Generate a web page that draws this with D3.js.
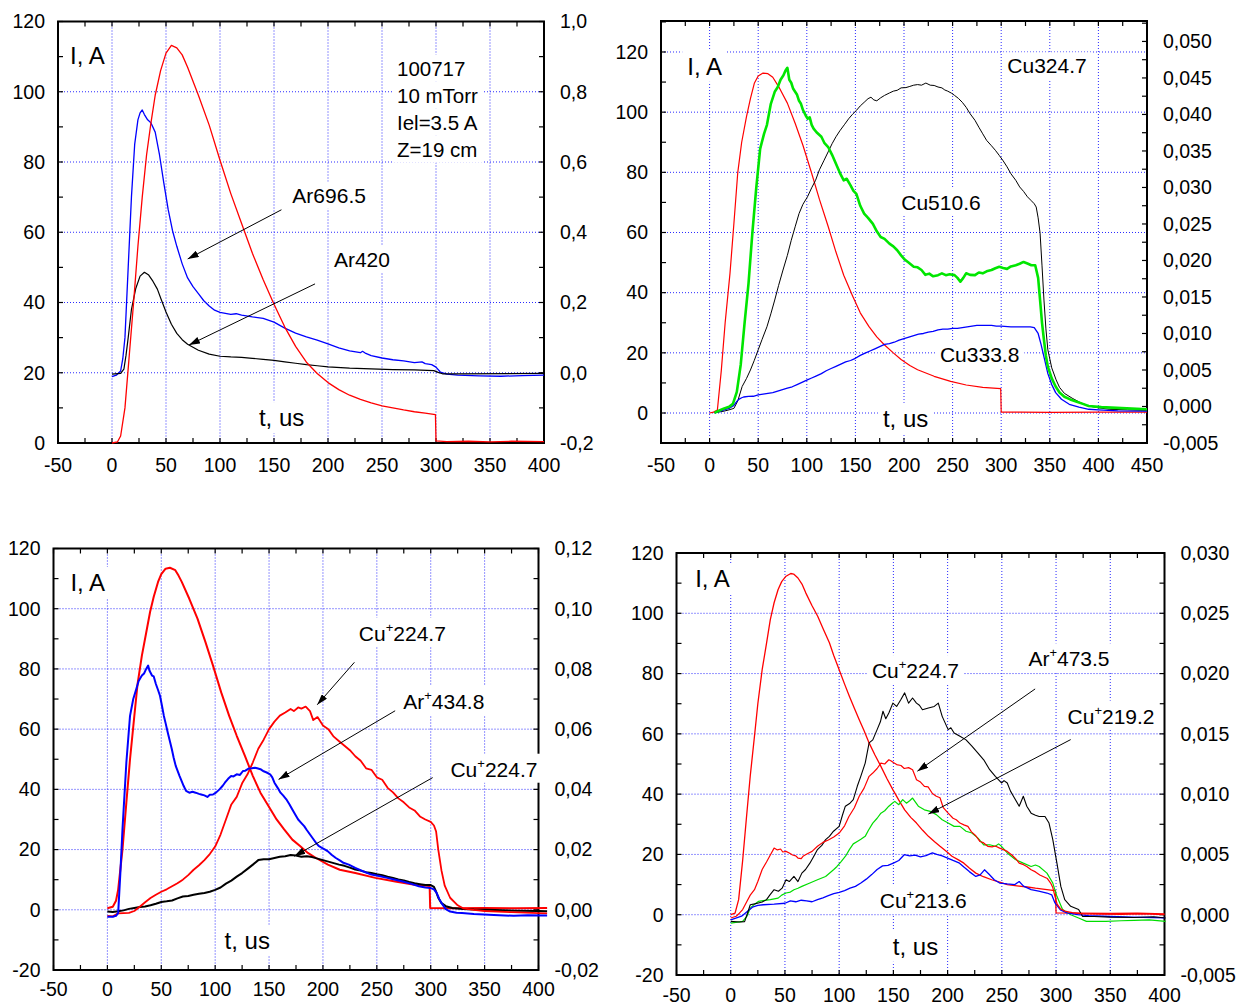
<!DOCTYPE html>
<html>
<head>
<meta charset="utf-8">
<script src="https://cdn.jsdelivr.net/npm/d3@7"></script>
<style>
  body { margin: 0; background: #fff; }
  text { font-family: "Liberation Sans", Arial, sans-serif; fill: #000; }
</style>
</head>
<body>
<svg id="chart" width="1236" height="1005"></svg>
<script>
// ---------- tick labels ----------
const p1XTicks = [-50, 0, 50, 100, 150, 200, 250, 300, 350, 400];
const p1YTicks = [0, 20, 40, 60, 80, 100, 120];
const p1Y2Ticks = [-0.2, 0, 0.2, 0.4, 0.6, 0.8, 1.0];
const p2XTicks = [-50, 0, 50, 100, 150, 200, 250, 300, 350, 400, 450];
const p2YTicks = [0, 20, 40, 60, 80, 100, 120];
const p2Y2Ticks = [-0.005, 0, 0.005, 0.01, 0.015, 0.02, 0.025, 0.03, 0.035, 0.04, 0.045, 0.05];
const p3XTicks = [-50, 0, 50, 100, 150, 200, 250, 300, 350, 400];
const p3YTicks = [-20, 0, 20, 40, 60, 80, 100, 120];
const p3Y2Ticks = [-0.02, 0, 0.02, 0.04, 0.06, 0.08, 0.10, 0.12];
const p4XTicks = [-50, 0, 50, 100, 150, 200, 250, 300, 350, 400];
const p4YTicks = [-20, 0, 20, 40, 60, 80, 100, 120];
const p4Y2Ticks = [-0.005, 0, 0.005, 0.01, 0.015, 0.02, 0.025, 0.03];

// ---------- series: [t (us), value] ----------
// panel 1 (top left): current I (A) and Ar lines (right axis)
const p1Current = [[0,0],[5,0.3],[8,2],[12,10],[16,25],[20,40],[24,56],[28,70],[32,82],[36,91],[40,99],[45,106],[50,111],[55,113.2],[60,112.5],[65,110.5],[70,107],[80,99],[90,90.5],[100,80.5],[110,71],[120,62.5],[130,54],[140,46.5],[150,39.5],[160,33],[170,27.5],[180,23],[190,19.8],[200,17.2],[210,15.2],[220,13.6],[230,12.4],[240,11.4],[250,10.6],[260,10],[270,9.4],[280,8.9],[290,8.5],[299.5,8.1],[300,0.6],[310,0.4],[330,0.5],[350,0.3],[370,0.5],[400,0.4]];
const p1Ar6965 = [[0,-0.011],[4,-0.007],[8,0.005],[10,0.04],[12,0.10],[15,0.30],[18,0.50],[21,0.65],[24,0.72],[26,0.74],[28,0.748],[30,0.735],[33,0.72],[36,0.712],[40,0.685],[44,0.62],[48,0.54],[52,0.465],[56,0.405],[60,0.36],[65,0.31],[70,0.27],[75,0.245],[80,0.225],[85,0.205],[90,0.19],[95,0.178],[100,0.172],[110,0.166],[115,0.168],[120,0.164],[130,0.159],[140,0.155],[150,0.144],[160,0.127],[170,0.113],[180,0.102],[190,0.093],[200,0.082],[210,0.071],[220,0.062],[230,0.057],[232,0.061],[235,0.055],[240,0.049],[250,0.042],[260,0.037],[270,0.034],[280,0.029],[287,0.031],[290,0.026],[296,0.023],[300,0.016],[304,0.002],[310,-0.004],[320,-0.007],[340,-0.009],[360,-0.010],[380,-0.008],[400,-0.007]];
const p1Ar420 = [[0,-0.004],[8,-0.002],[11,0.01],[13,0.05],[15,0.10],[18,0.18],[22,0.24],[26,0.275],[30,0.286],[34,0.278],[38,0.26],[42,0.238],[46,0.205],[50,0.173],[55,0.138],[60,0.112],[65,0.094],[70,0.081],[80,0.064],[90,0.053],[100,0.047],[110,0.045],[120,0.044],[130,0.041],[140,0.038],[150,0.035],[160,0.031],[170,0.027],[180,0.023],[190,0.020],[200,0.017],[220,0.013],[240,0.011],[260,0.009],[280,0.008],[298,0.006],[302,0.001],[306,-0.003],[320,-0.003],[400,-0.002]];

// panel 2 (top right): current I (A) and Cu lines (right axis)
const p2Current = [[0,0],[4,0.3],[8,1],[12,14],[16,30],[21,46.5],[25,63],[29,80],[33,90],[38,98.6],[42,104.5],[46,109.6],[50,112],[55,113],[60,112.8],[65,111.6],[71,108.5],[80,103],[88,96.3],[96,89],[105,79.7],[113,71],[122,62],[130,53.5],[138,45.8],[147,39],[155,33.3],[164,28.7],[172,25.3],[180,22.6],[189,20],[197,17.8],[206,15.8],[214,14.4],[231,12.2],[248,10.5],[264,9.3],[281,8.5],[299.5,8.1],[300,0.3],[320,0.3],[350,0.2],[400,0.3],[450,0.3]];
const p2Cu3247 = [[5,-0.00087],[15,-0.00063],[20,-0.00046],[25,-0.00026],[29,0.00077],[33.5,0.00274],[38,0.00385],[42,0.005],[46,0.00632],[50,0.00776],[54,0.00919],[59,0.01092],[63,0.01269],[67,0.01458],[71,0.01659],[75.5,0.01869],[80,0.0207],[84,0.02276],[88,0.02461],[92,0.02642],[96,0.02769],[100.7,0.02872],[105,0.02995],[109,0.03098],[113,0.03242],[117.5,0.03365],[122,0.03488],[126,0.03599],[130,0.03694],[134,0.03776],[139,0.03866],[143,0.0394],[147,0.04002],[151,0.04055],[155,0.04117],[159,0.04166],[163,0.04216],[166,0.04236],[169,0.04199],[172,0.04187],[176,0.04228],[180,0.04261],[185,0.04294],[189,0.04319],[193,0.04331],[197,0.04364],[202,0.04368],[206,0.04384],[210,0.04401],[214,0.04409],[218,0.04401],[222.5,0.0443],[227,0.04401],[231,0.04397],[235,0.04376],[239,0.04364],[242,0.04335],[245,0.04319],[249,0.0429],[252,0.04261],[256,0.0422],[260,0.04166],[264,0.04097],[268,0.0401],[273,0.0392],[277,0.03825],[281,0.03735],[285,0.03645],[290,0.03571],[294,0.03509],[298,0.03439],[302,0.03365],[306,0.03283],[310,0.03188],[315,0.03098],[319,0.03007],[323,0.02946],[327,0.02872],[331,0.02818],[334,0.02777],[336,0.02732],[338,0.02584],[340,0.02374],[342,0.01926],[344,0.01458],[346,0.01063],[348,0.00776],[352,0.00529],[356.5,0.00365],[360,0.00262],[365,0.0018],[373,0.00114],[381,0.00056],[390,0.00007],[400,-0.00018],[411,-0.00038],[430,-0.00046],[450,-0.00054]];
const p2Cu5106 = [[5,-0.00087],[10,-0.00055],[15,-0.00026],[20,-0.00005],[24,0.00036],[28,0.002],[32,0.0057],[36,0.01146],[40,0.0168],[44,0.02379],[48,0.02995],[52,0.03529],[56,0.03735],[59,0.03858],[63,0.04146],[67,0.0431],[70,0.04372],[73,0.04475],[76,0.04536],[78,0.04598],[80,0.04639],[82,0.04475],[84,0.04434],[86,0.04351],[88,0.0431],[90,0.04269],[92,0.04187],[94,0.04146],[96,0.04064],[99,0.03982],[101,0.03941],[103,0.03961],[105,0.03858],[107,0.03805],[110,0.03756],[115,0.03694],[118,0.03612],[122,0.03554],[126,0.03447],[130,0.03324],[134,0.03201],[138,0.03098],[141,0.03119],[145,0.03028],[148,0.02954],[151,0.02913],[155,0.02749],[159,0.02642],[163,0.02584],[168,0.02502],[172,0.02399],[176,0.02321],[180,0.02296],[185,0.02231],[189,0.02194],[193,0.0214],[197,0.0207],[201,0.02009],[205,0.01968],[210,0.01914],[214,0.01906],[218,0.01869],[222,0.01803],[226,0.0182],[230,0.01783],[235,0.01799],[239,0.01824],[243,0.01799],[247,0.01811],[252,0.01799],[255,0.01762],[258,0.01709],[261,0.01762],[264,0.01824],[268,0.01803],[273,0.01799],[277,0.01836],[281,0.01824],[285,0.01852],[290,0.01869],[294,0.01894],[298,0.01914],[302,0.01898],[306,0.01885],[310,0.01918],[315,0.01935],[319,0.01955],[323,0.0198],[327,0.01959],[331,0.01935],[335,0.01935],[338,0.01762],[340,0.01458],[342,0.01146],[344,0.00911],[346,0.00693],[348,0.00545],[352,0.00385],[356,0.00274],[360,0.00192],[365,0.00134],[371,0.00097],[377,0.00069],[384,0.00036],[390,0.00007],[403,-0.00009],[424,-0.00022],[450,-0.00038]];
const p2Cu3338 = [[5,-0.00087],[10,-0.00067],[15,-0.00045],[20,-0.00026],[25,0.00015],[28,0.0007],[30,0.00097],[33,0.0012],[35,0.0013],[40,0.00139],[45,0.0014],[50,0.0016],[55,0.0017],[60,0.0018],[65,0.0019],[70,0.0021],[75,0.0023],[80,0.0025],[85,0.0027],[90,0.003],[95,0.0033],[100,0.0036],[105,0.0039],[110,0.0042],[115,0.0045],[120,0.0049],[125,0.0052],[130,0.0055],[135,0.0058],[140,0.0061],[145,0.0063],[150,0.0066],[155,0.007],[160,0.0073],[165,0.0076],[170,0.0079],[175,0.0082],[180,0.0085],[185,0.0086],[190,0.0088],[195,0.0091],[200,0.0093],[205,0.0095],[210,0.0097],[215,0.0099],[220,0.01],[225,0.0102],[230,0.0103],[235,0.0105],[240,0.0106],[245,0.0106],[250,0.0107],[255,0.0107],[260,0.0108],[265,0.0109],[270,0.011],[275,0.0111],[280,0.0111],[285,0.0111],[290,0.0111],[295,0.011],[300,0.011],[310,0.0109],[320,0.0109],[330,0.0109],[334,0.0108],[338,0.01],[341,0.0085],[344,0.0068],[348,0.0045],[352,0.003],[356,0.0019],[362,0.001],[370,0.0003],[380,-0.0001],[390,-0.00038],[400,-0.00046],[420,-0.00059],[450,-0.00063]];

// panel 3 (bottom left): current I (A), Cu+ and Ar+ lines (right axis)
const p3Current = [[0,0.5],[5,1],[8,3],[10,6.7],[14,20],[17.6,35.6],[21,50],[25,64.4],[28,75],[32,84.4],[36,92],[39.6,98.9],[43,104],[47,108.9],[50,111.5],[54,113.3],[58,113.6],[63,112.8],[66,111],[69,108.9],[76,103.3],[83.6,96.7],[91,88.9],[98,81.1],[105.6,72.2],[113,64.4],[120,57.8],[127.6,51.1],[135,44.4],[142,38.9],[149.6,34.4],[157,30],[164,26.7],[171.6,23.3],[179,21.1],[186,18.9],[193.6,17.2],[204.6,15],[215.6,13.3],[230,12.2],[248.6,10.6],[267,9.4],[285,8.3],[299,7.9],[299.5,0.6],[320,0.5],[350,0.6],[380,0.5],[408,0.6]];
const p3CuIon2247 = [[0,-0.002],[5,-0.0022],[10,-0.0012],[15,-0.0011],[20,-0.001],[25,-0.0004],[30,0.001],[35,0.0025],[40,0.0039],[45,0.005],[50,0.006],[55,0.0068],[60,0.0078],[65,0.0088],[70,0.01],[75,0.0115],[80,0.0133],[85,0.0148],[90,0.0165],[95,0.0185],[100,0.021],[105,0.025],[110,0.03],[115,0.035],[120,0.0375],[125,0.042],[130,0.045],[135,0.049],[140,0.0535],[145,0.0565],[150,0.06],[155,0.0625],[160,0.0645],[165,0.0655],[170,0.0667],[173,0.066],[177,0.0672],[180,0.0668],[184,0.0675],[188,0.066],[191,0.063],[195,0.064],[200,0.0612],[205,0.06],[210,0.0575],[215,0.056],[220,0.0545],[225,0.053],[230,0.051],[235,0.0495],[240,0.047],[245,0.0465],[250,0.044],[255,0.0432],[260,0.0405],[265,0.039],[270,0.037],[275,0.0357],[280,0.034],[285,0.033],[290,0.031],[295,0.03],[300,0.0292],[303,0.028],[305,0.026],[307,0.02],[310,0.013],[313,0.008],[318,0.004],[325,0.0015],[330,0.0005],[340,0],[350,-0.0004],[375,-0.0008],[400,-0.0011],[408,-0.0012]];
const p3ArIon4348 = [[0,-0.0023],[5,-0.0023],[8,-0.002],[10,-0.0011],[12,0.012],[14,0.0267],[17.6,0.0489],[21,0.0644],[24,0.07],[26.8,0.0733],[29,0.076],[32,0.0778],[34,0.0785],[36,0.08],[37.8,0.0811],[39,0.0795],[41.4,0.0778],[43,0.0775],[45,0.075],[47,0.073],[48.8,0.0711],[50.5,0.068],[52.4,0.0644],[54,0.062],[56,0.0589],[58,0.056],[59.8,0.0533],[61.5,0.0505],[63.4,0.0478],[67,0.0444],[70.8,0.0411],[73,0.0395],[76,0.0389],[79,0.0392],[81.8,0.0389],[85,0.0385],[87,0.0383],[90,0.038],[92.8,0.0375],[95,0.0382],[98,0.0383],[101,0.039],[104,0.04],[107,0.0412],[109,0.0422],[112,0.0435],[114.8,0.0444],[117,0.0443],[120,0.045],[123,0.0448],[125.8,0.0461],[128,0.0462],[131,0.0469],[134,0.047],[136.8,0.0472],[139,0.047],[142,0.0467],[145,0.046],[147.8,0.0456],[151,0.045],[153,0.044],[155,0.0422],[158,0.0405],[160.6,0.0389],[163,0.038],[166,0.0367],[169,0.035],[171.6,0.0333],[174,0.0318],[177,0.03],[180,0.0288],[182.6,0.0278],[185,0.0265],[188,0.025],[191,0.0235],[193.6,0.0222],[196,0.0212],[199,0.0206],[202,0.02],[204.6,0.0194],[208,0.0183],[212,0.0172],[216,0.0163],[219,0.0156],[224,0.015],[230,0.0139],[237,0.0128],[245,0.0117],[252,0.0112],[259.6,0.0106],[267,0.01],[274,0.0094],[282,0.0086],[289,0.0078],[295,0.0074],[300,0.0072],[303,0.0068],[305.5,0.0056],[308,0.0035],[311,0.0017],[314,0.0002],[318,-0.0006],[324,-0.001],[329,-0.0011],[340,-0.0014],[358.6,-0.0017],[377,-0.002],[390,-0.0018],[408,-0.0019]];
const p3CuIon2247b = [[0,-0.0006],[5,-0.0007],[10,-0.0005],[15,-0.0002],[20,0.0003],[25,0.0006],[30,0.0009],[35,0.0011],[40,0.0015],[45,0.002],[50,0.0026],[55,0.0028],[60,0.0031],[65,0.0038],[70,0.0044],[75,0.0046],[80,0.005],[85,0.0053],[90,0.0056],[95,0.006],[100,0.0066],[105,0.0074],[110,0.0087],[115,0.0097],[120,0.011],[125,0.0122],[130,0.0136],[135,0.015],[140,0.0165],[145,0.0168],[150,0.0168],[155,0.0172],[160,0.0176],[165,0.0178],[170,0.0182],[175,0.018],[180,0.0176],[185,0.0178],[190,0.0175],[195,0.017],[200,0.0165],[205,0.016],[210,0.0155],[215,0.015],[220,0.0146],[225,0.014],[230,0.0134],[235,0.013],[240,0.0125],[245,0.0122],[250,0.0118],[255,0.0115],[260,0.011],[265,0.0106],[270,0.0101],[275,0.0097],[280,0.0092],[285,0.0088],[290,0.0085],[295,0.0082],[300,0.0082],[303,0.0076],[305,0.006],[307,0.004],[310,0.0022],[314,0.0012],[320,0.0006],[330,0.0003],[340,0.0001],[360,-0.0001],[380,-0.0003],[400,-0.0004],[408,-0.0005]];

// panel 4 (bottom right): current I (A), Cu+ and Ar+ lines (right axis)
const p4Current = [[0,0],[4,0.5],[7.3,5],[11,18],[14.6,32.6],[18,46],[21.9,59.2],[25,70],[29,81.3],[33,90],[36.5,97.9],[40,103.5],[43.7,107.9],[47,110.5],[51,112.3],[55.4,113.2],[58,113],[62,111.7],[66,109.5],[69.3,106.7],[75,102.5],[80.2,99],[85,95],[91,90.2],[95,86],[100,81.3],[105,76.5],[109.4,72.5],[114,68.5],[118.5,64.7],[123,61],[127.6,57],[133,53],[138.5,49.2],[144,45.2],[149.5,41.5],[155,38],[160.4,34.8],[166,32.3],[171.3,30.4],[177,28],[182.3,26],[188,24.2],[193,22.7],[199,21],[204,19.4],[210,18.2],[215,17.1],[220,15.5],[226,13.8],[233,12.6],[240.6,11.6],[248,10.8],[255,10],[264,9.6],[273.4,9.2],[281,8.8],[288,8.5],[297,8.1],[299.5,8],[300,0.6],[320,0.5],[350,0.4],[375,0.5],[400,0.3]];
const p4CuIon2247 = [[0,-0.00055],[8,-0.0006],[12.8,-0.000575],[15,0],[18,0.000825],[22,0.0009],[25.5,0.000975],[29,0.00105],[33,0.00125],[36,0.001625],[40,0.002075],[44,0.00195],[47.4,0.0022],[51,0.0029],[54,0.00275],[58.3,0.003175],[62,0.00275],[65.6,0.00345],[69,0.00375],[73,0.004275],[76,0.00475],[80,0.0054],[84,0.00575],[87.5,0.006225],[91,0.0065],[94.8,0.006925],[100,0.007325],[103,0.00825],[105.7,0.009],[110,0.00925],[113,0.00955],[116.7,0.01065],[120,0.0115],[124,0.012575],[127.6,0.01425],[131,0.0145],[135,0.01535],[138,0.016],[140.4,0.016875],[143,0.01625],[145.8,0.016725],[149.5,0.01755],[153,0.017275],[156.8,0.017825],[160.4,0.0184],[164,0.01755],[167.7,0.017975],[171.3,0.01755],[174,0.017375],[176.8,0.017],[182.3,0.01715],[187.7,0.017275],[191.4,0.01755],[195,0.01645],[200.5,0.01535],[203,0.0155],[206,0.015075],[211.4,0.0148],[217,0.0145],[222.4,0.013975],[228,0.0134],[233.3,0.01285],[238.8,0.012025],[244,0.011475],[249.7,0.010925],[252,0.011125],[255,0.010925],[258,0.01025],[260.7,0.009825],[266,0.009],[269.8,0.009825],[273,0.009],[277,0.008425],[281,0.00825],[284.4,0.00815],[289.8,0.00815],[293.5,0.0076],[297,0.006225],[300.8,0.004275],[304.4,0.00235],[308,0.00125],[313.5,0.0007],[320.8,0.000425],[324.5,-0.00015],[335,-0.00015],[350,-0.0002],[372,-0.000225],[390,-0.000175],[401,-0.000275]];
const p4ArIon4735 = [[0,-0.000275],[5,-0.000125],[8,0.000125],[11,0.000425],[15,0.001125],[18,0.001625],[21.9,0.002075],[25,0.00275],[29,0.00375],[33,0.004375],[36,0.004875],[40,0.005525],[43,0.005375],[46,0.00545],[48,0.0052],[51,0.00525],[54,0.005125],[57,0.00495],[60,0.004875],[62,0.0047],[65,0.00465],[67,0.004875],[69,0.004975],[72,0.005125],[75,0.00525],[80,0.005675],[85,0.006],[90,0.0062],[95,0.00645],[100,0.006775],[105,0.007375],[109,0.00815],[114,0.008875],[118.5,0.009825],[123,0.0105],[127.6,0.011475],[131,0.01175],[135,0.012125],[138.5,0.012575],[142,0.0125],[145.8,0.01285],[148,0.01275],[150,0.012625],[153,0.01245],[157,0.012375],[160,0.012125],[164,0.0122],[167.7,0.012025],[170,0.0115],[171.3,0.0112],[175,0.011],[178.6,0.01065],[182,0.0106],[186,0.01005],[189.6,0.009825],[193,0.0097],[196,0.008875],[200.5,0.008425],[205,0.008],[208,0.007875],[211.4,0.0076],[215,0.00745],[218.7,0.007325],[222,0.006875],[226,0.00655],[229.7,0.006075],[233,0.005975],[237,0.005675],[241,0.005625],[244,0.0057],[248,0.005525],[252,0.005375],[255,0.00525],[259,0.004975],[263,0.004625],[266,0.004275],[270,0.00415],[273,0.004],[277,0.003725],[281,0.00355],[285,0.0033],[288,0.003175],[292,0.003],[295,0.002625],[297,0.00225],[299,0.001525],[301,0.000875],[304,0.0005],[308,0.0003],[315,0.000175],[325,0.000075],[340,0.00005],[360,0.000025],[380,0.000075],[400,0]];
const p4CuIon2192 = [[0,-0.0007],[11,-0.00055],[15,-0.000125],[18,0.00055],[22,0.000875],[25.5,0.0011],[30,0.001175],[36.5,0.00125],[43.7,0.001375],[47,0.001625],[51,0.0018],[55,0.001875],[58.3,0.002075],[62,0.0022],[65.6,0.00235],[73,0.002625],[80,0.0029],[87.5,0.003175],[94.8,0.003725],[98,0.004],[102,0.004425],[106,0.004875],[109.4,0.0054],[113,0.005875],[116.7,0.006075],[120,0.00625],[124,0.0065],[127,0.007],[131,0.0076],[135,0.008],[138.5,0.008425],[142,0.008625],[145.8,0.009],[149,0.00925],[151.3,0.0094],[155,0.009125],[158.6,0.00955],[162,0.00925],[165,0.00945],[167.7,0.009675],[170,0.009375],[173,0.009],[178.6,0.0087],[184,0.008575],[189.6,0.0083],[195,0.007875],[200.5,0.0076],[206,0.007325],[211.4,0.007325],[217,0.006925],[222.4,0.006775],[228,0.00635],[233.3,0.0058],[238.8,0.0058],[244,0.005675],[247,0.005875],[249.7,0.005675],[255,0.005125],[262.5,0.004575],[269.8,0.004275],[277,0.004],[281,0.004125],[284.4,0.004],[291.6,0.00345],[297,0.002625],[300.8,0.001525],[306,0.000425],[313.5,0],[320.8,-0.000275],[328,-0.00055],[346,-0.00055],[360,-0.0005],[372,-0.000475],[386,-0.000425],[401,-0.00055]];
const p4CuIon2136 = [[0,-0.000425],[10,-0.000125],[15,0.00025],[20,0.000625],[25,0.000775],[30,0.000825],[40,0.000875],[50,0.00095],[55,0.00115],[60,0.001075],[65,0.0012],[70,0.00115],[75,0.001075],[80,0.00125],[85,0.0014],[90,0.001575],[95,0.00175],[100,0.00185],[105,0.002],[110,0.0022],[115,0.00235],[120,0.002625],[125,0.00295],[130,0.003325],[135,0.00375],[140,0.00405],[145,0.0041],[150,0.004275],[155,0.0045],[160,0.004975],[165,0.004875],[170,0.00495],[175,0.0048],[180,0.0049],[186,0.005125],[190,0.005],[195,0.004875],[200,0.0047],[205,0.0045],[211,0.004275],[215,0.00395],[220,0.003575],[226,0.003175],[230,0.0033],[234,0.003725],[238,0.003375],[243,0.0029],[248,0.002625],[255,0.00255],[262,0.0025],[266,0.00275],[270,0.002375],[277,0.002075],[284,0.00195],[291.6,0.0018],[296,0.00165],[299,0.000975],[304,0.0004],[310,0.00015],[320,0],[330,-0.000075],[350,-0.00015],[370,-0.0002],[400,-0.00025]];

// ---------- panels ----------
const panels = [
  {
    box: {l: 58, r: 544, t: 21.5, b: 443},
    xDom: [-50, 400], yDom: [0, 120], y2Dom: [-0.2, 1.0],
    xTicks: p1XTicks, yTicks: p1YTicks, y2Ticks: p1Y2Ticks, y2Dec: 1,
    yMinor: [0, 120, 10], y2Minor: [-0.2, 1.0, 0.1],
    gridX: [0, 50, 100, 150, 200, 250, 300, 350], gridY: [20, 40, 60, 80, 100],
    xLabelDy: 28.5,
    series: [
      {data: p1Ar6965, axis: 2, color: "#0000ff", width: 1.3},
      {data: p1Ar420, axis: 2, color: "#000000", width: 1.2},
      {data: p1Current, axis: 1, color: "#ff0000", width: 1.3}
    ],
    labels: [
      {t: -38.9, v: 107.9, size: 24, text: "I, A"},
      {t: 263.9, v: 104.6, size: 20.5, text: "100717"},
      {t: 263.9, v: 96.9, size: 20.5, text: "10 mTorr"},
      {t: 263.9, v: 89.2, size: 20.5, text: "Iel=3.5 A"},
      {t: 263.9, v: 81.5, size: 20.5, text: "Z=19 cm"},
      {t: 167, v: 68.4, size: 21, text: "Ar696.5"},
      {t: 205.5, v: 50.2, size: 21, text: "Ar420"},
      {t: 136, v: 4.8, size: 24, text: "t, us"}
    ],
    arrows: [
      {from: [156.9, 66.4], to: [70.1, 52.4]},
      {from: [188, 45.3], to: [71.3, 27.9]}
    ]
  },
  {
    box: {l: 661, r: 1147, t: 21, b: 443},
    xDom: [-50, 450], yDom: [-9.97, 130.3], y2Dom: [-0.005, 0.0528],
    xTicks: p2XTicks, yTicks: p2YTicks, y2Ticks: p2Y2Ticks, y2Dec: 3,
    yMinor: [-10, 130, 10], y2Minor: [-0.005, 0.0525, 0.0025],
    gridX: [0, 50, 100, 150, 200, 250, 300, 350, 400], gridY: [0, 20, 40, 60, 80, 100, 120],
    xLabelDy: 29,
    series: [
      {data: p2Current, axis: 1, color: "#ff0000", width: 1.2},
      {data: p2Cu3247, axis: 2, color: "#000000", width: 1},
      {data: p2Cu3338, axis: 2, color: "#0000ff", width: 1.3},
      {data: p2Cu5106, axis: 2, color: "#00e600", width: 2.6}
    ],
    labels: [
      {t: -23, v: 112.4, size: 24, text: "I, A"},
      {t: 306.3, v: 112.9, size: 21, text: "Cu324.7"},
      {t: 197.2, v: 67.5, size: 21, text: "Cu510.6"},
      {t: 237, v: 17.1, size: 21, text: "Cu333.8"},
      {t: 178.3, v: -4.6, size: 24, text: "t, us"}
    ],
    arrows: []
  },
  {
    box: {l: 53.5, r: 538.5, t: 548.5, b: 970},
    xDom: [-50, 400], yDom: [-20, 120], y2Dom: [-0.02, 0.12],
    xTicks: p3XTicks, yTicks: p3YTicks, y2Ticks: p3Y2Ticks, y2Dec: 2,
    yMinor: [-20, 120, 10], y2Minor: [-0.02, 0.12, 0.01],
    gridX: [0, 50, 100, 150, 200, 250, 300, 350], gridY: [0, 20, 40, 60, 80, 100],
    xLabelDy: 25.5,
    series: [
      {data: p3Current, axis: 1, color: "#ff0000", width: 2},
      {data: p3CuIon2247b, axis: 2, color: "#000000", width: 2},
      {data: p3CuIon2247, axis: 2, color: "#ff0000", width: 1.8},
      {data: p3ArIon4348, axis: 2, color: "#0000ff", width: 2}
    ],
    labels: [
      {t: -34.3, v: 105.9, size: 24, text: "I, A"},
      {t: 233.3, v: 89.4, size: 21, text: "Cu", sup: "+", post: "224.7"},
      {t: 274.5, v: 66.7, size: 21, text: "Ar", sup: "+", post: "434.8"},
      {t: 318.3, v: 44.2, size: 21, text: "Cu", sup: "+", post: "224.7", padR: 9},
      {t: 108.7, v: -13, size: 24, text: "t, us"}
    ],
    arrows: [
      {from: [229.2, 82.2], to: [194.7, 68.1]},
      {from: [267, 66.1], to: [158.8, 43.3]},
      {from: [301.8, 43.9], to: [173.4, 17.8]}
    ]
  },
  {
    box: {l: 676.5, r: 1164.5, t: 553, b: 975},
    xDom: [-50, 400], yDom: [-20, 120], y2Dom: [-0.005, 0.03],
    xTicks: p4XTicks, yTicks: p4YTicks, y2Ticks: p4Y2Ticks, y2Dec: 3,
    yMinor: [-20, 120, 10], y2Minor: [-0.005, 0.03, 0.0025],
    gridX: [0, 50, 100, 150, 200, 250, 300, 350], gridY: [0, 20, 40, 60, 80, 100],
    xLabelDy: 27,
    series: [
      {data: p4Current, axis: 1, color: "#ff0000", width: 1.3},
      {data: p4CuIon2192, axis: 2, color: "#00dd00", width: 1.2},
      {data: p4CuIon2136, axis: 2, color: "#0000ff", width: 1.3},
      {data: p4CuIon2247, axis: 2, color: "#000000", width: 1.1},
      {data: p4ArIon4735, axis: 2, color: "#ff0000", width: 1.2}
    ],
    labels: [
      {t: -32.8, v: 108.7, size: 24, text: "I, A"},
      {t: 130.2, v: 78.5, size: 21, text: "Cu", sup: "+", post: "224.7"},
      {t: 274.5, v: 82.4, size: 21, text: "Ar", sup: "+", post: "473.5"},
      {t: 310.6, v: 63.4, size: 21, text: "Cu", sup: "+", post: "219.2"},
      {t: 137.4, v: 2.2, size: 21, text: "Cu", sup: "+", post: "213.6"},
      {t: 149.5, v: -13.3, size: 24, text: "t, us"}
    ],
    arrows: [
      {from: [280.7, 74.9], to: [172.1, 47.6]},
      {from: [313.5, 58.1], to: [182.3, 33.4]}
    ]
  }
];

const svg = d3.select("#chart");

svg.append("defs").append("marker")
  .attr("id", "arrowhead")
  .attr("markerUnits", "userSpaceOnUse")
  .attr("markerWidth", 11).attr("markerHeight", 7)
  .attr("refX", 11).attr("refY", 3.5)
  .attr("orient", "auto")
  .append("path")
  .attr("d", "M0,0 L11,3.5 L0,7 Z")
  .attr("fill", "#000");

function commaFormat(dec) {
  return v => (v < -1e-9 ? "-" : "") + Math.abs(v).toFixed(dec).replace(".", ",");
}

function rangeIncl(lo, hi, step) {
  const out = [];
  const n = Math.round((hi - lo) / step);
  for (let i = 0; i <= n; i++) out.push(lo + i * step);
  return out;
}

function drawPanel(p) {
  const b = p.box;
  const g = svg.append("g");
  const x = d3.scaleLinear().domain(p.xDom).range([b.l, b.r]);
  const y = d3.scaleLinear().domain(p.yDom).range([b.b, b.t]);
  const y2 = d3.scaleLinear().domain(p.y2Dom).range([b.b, b.t]);

  // dotted grid
  const grid = g.append("g")
    .attr("stroke", "#2a2aff")
    .attr("stroke-width", 1)
    .attr("stroke-dasharray", "1,2");
  grid.selectAll(".gx").data(p.gridX).join("line")
    .attr("x1", d => x(d)).attr("x2", d => x(d))
    .attr("y1", b.t).attr("y2", b.b);
  grid.selectAll(".gy").data(p.gridY).join("line")
    .attr("x1", b.l).attr("x2", b.r)
    .attr("y1", d => y(d)).attr("y2", d => y(d));

  // inward ticks
  const ticks = g.append("g").attr("stroke", "#000").attr("stroke-width", 1.2);
  const tl = 5;
  const xMinor = rangeIncl(p.xDom[0], p.xDom[1], 25);
  ticks.selectAll(".tb").data(xMinor).join("line")
    .attr("x1", d => x(d)).attr("x2", d => x(d))
    .attr("y1", b.b).attr("y2", b.b - tl);
  ticks.selectAll(".tt").data(xMinor).join("line")
    .attr("x1", d => x(d)).attr("x2", d => x(d))
    .attr("y1", b.t).attr("y2", b.t + tl);
  ticks.selectAll(".tl").data(rangeIncl(...p.yMinor)).join("line")
    .attr("x1", b.l).attr("x2", b.l + tl)
    .attr("y1", d => y(d)).attr("y2", d => y(d));
  ticks.selectAll(".tr").data(rangeIncl(...p.y2Minor)).join("line")
    .attr("x1", b.r).attr("x2", b.r - tl)
    .attr("y1", d => y2(d)).attr("y2", d => y2(d));

  // frame
  g.append("rect")
    .attr("x", b.l).attr("y", b.t)
    .attr("width", b.r - b.l).attr("height", b.b - b.t)
    .attr("fill", "none").attr("stroke", "#000").attr("stroke-width", 2);

  // tick labels
  const tickText = g.append("g").style("font-size", "19.5px");
  tickText.selectAll(".lx").data(p.xTicks).join("text")
    .attr("x", d => x(d)).attr("y", b.b + p.xLabelDy)
    .attr("text-anchor", "middle")
    .text(d => d);
  tickText.selectAll(".ly").data(p.yTicks).join("text")
    .attr("x", b.l - 13).attr("y", d => y(d)).attr("dy", "0.35em")
    .attr("text-anchor", "end")
    .text(d => d);
  const fmt = commaFormat(p.y2Dec);
  tickText.selectAll(".ly2").data(p.y2Ticks).join("text")
    .attr("x", b.r + 16).attr("y", d => y2(d)).attr("dy", "0.35em")
    .attr("text-anchor", "start")
    .text(d => fmt(d));

  const maskLayer = g.append("g");
  const lineLayer = g.append("g");
  const textLayer = g.append("g");

  // curves
  p.series.forEach(s => {
    const ys = s.axis === 1 ? y : y2;
    const line = d3.line().x(d => x(d[0])).y(d => ys(d[1]));
    lineLayer.append("path")
      .datum(s.data)
      .attr("d", line)
      .attr("fill", "none")
      .attr("stroke", s.color)
      .attr("stroke-width", s.width)
      .attr("stroke-linejoin", "round");
  });

  // arrows
  p.arrows.forEach(a => {
    lineLayer.append("line")
      .attr("x1", x(a.from[0])).attr("y1", y(a.from[1]))
      .attr("x2", x(a.to[0])).attr("y2", y(a.to[1]))
      .attr("stroke", "#000").attr("stroke-width", 1)
      .attr("marker-end", "url(#arrowhead)");
  });

  // annotation text with white backing
  p.labels.forEach(lb => {
    const t = textLayer.append("text")
      .attr("x", x(lb.t)).attr("y", y(lb.v))
      .style("font-size", lb.size + "px");
    t.append("tspan").text(lb.text);
    if (lb.sup) {
      t.append("tspan").attr("dy", -9).style("font-size", "13px").text(lb.sup);
      t.append("tspan").attr("dy", 9).text(lb.post);
    }
    const bb = t.node().getBBox();
    maskLayer.append("rect")
      .attr("x", bb.x - 5).attr("y", bb.y - 2)
      .attr("width", bb.width + 10 + (lb.padR || 0)).attr("height", bb.height + 4)
      .attr("fill", "#fff");
  });
}

panels.forEach(drawPanel);
</script>
</body>
</html>
